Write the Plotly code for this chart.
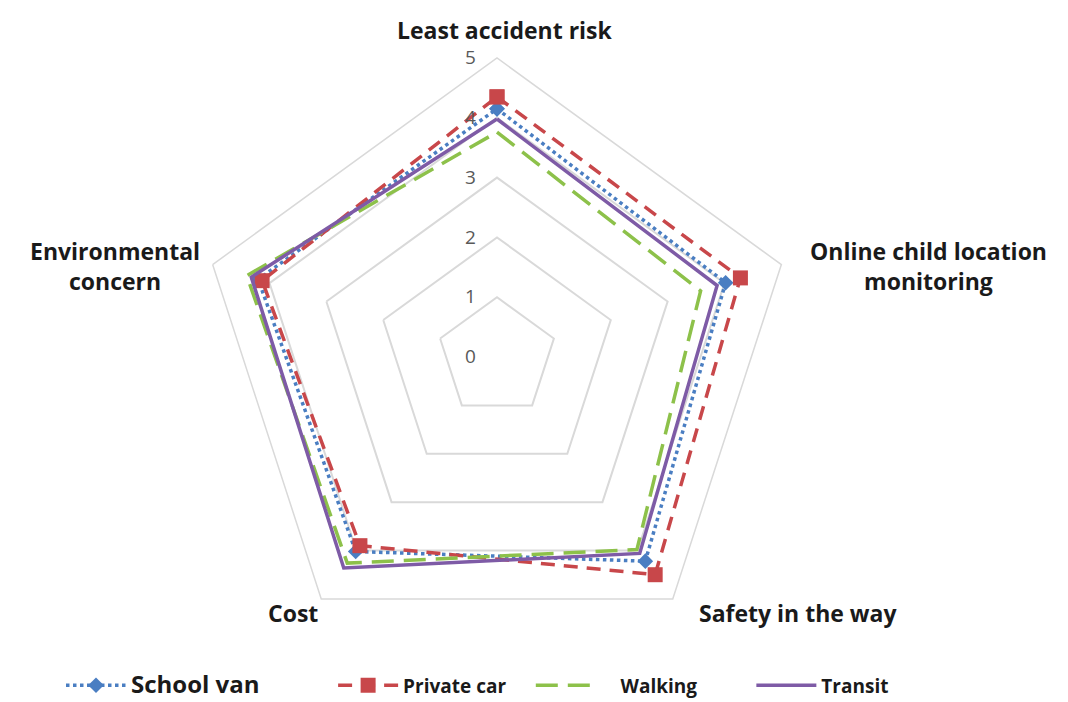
import plotly.graph_objects as go

categories = ["Least accident risk", "Online child location monitoring",
              "Safety in the way", "Cost", "Environmental concern"]
category_labels = ["Least accident risk", "Online child location<br>monitoring",
                   "Safety in the way", "Cost", "Environmental<br>concern"]
school_van = [4.15, 4.02, 4.22, 4.02, 4.2]
private_car = [4.35, 4.28, 4.5, 3.9, 4.13]
walking = [3.76, 3.58, 3.98, 4.26, 4.4]
transit = [3.98, 3.87, 4.06, 4.36, 4.32]
radial_ticks = [0, 1, 2, 3, 4, 5]

def closed(v):
    return list(v) + [v[0]]

theta = closed(categories)
NB = "\u00a0"

fig = go.Figure()
fig.add_trace(go.Scatterpolar(
    r=closed(school_van), theta=theta,
    name="<b><span style='font-size:24px'>School van" + NB * 11 + "</span></b>",
    mode="lines+markers",
    line=dict(color="#4A7EC2", width=3.5, dash="dot"),
    marker=dict(symbol="diamond", size=12, color="#4A7EC2")))
fig.add_trace(go.Scatterpolar(
    r=closed(private_car), theta=theta, name="<b>Private car</b>" + NB * 4,
    mode="lines+markers",
    line=dict(color="#C8474A", width=3.5, dash="14px,9px"),
    marker=dict(symbol="square", size=15, color="#C8474A")))
fig.add_trace(go.Scatterpolar(
    r=closed(walking), theta=theta, name=NB * 4 + "<b>Walking</b>" + NB * 10,
    mode="lines",
    line=dict(color="#8DC14A", width=3.5, dash="22px,10px")))
fig.add_trace(go.Scatterpolar(
    r=closed(transit), theta=theta, name="<b>Transit</b>",
    mode="lines",
    line=dict(color="#7E5BA6", width=3.5)))

dx, dy = -8, -6
fig.update_layout(
    width=1068, height=702,
    margin=dict(l=0, r=0, t=0, b=0),
    paper_bgcolor="white", plot_bgcolor="white",
    font=dict(family="Open Sans", color="#1a1a1a"),
    polar=dict(
        domain=dict(x=[(198+dx)/1068, (796+dx)/1068],
                    y=[1-(654+dy)/702, 1-(56+dy)/702]),
        gridshape="linear",
        bgcolor="white",
        angularaxis=dict(rotation=90, direction="clockwise",
                         showgrid=False, showticklabels=False, ticks="",
                         showline=True, linecolor="#D9D9D9", linewidth=1.5),
        radialaxis=dict(range=[0, 5], tickvals=radial_ticks, angle=90,
                        tickangle=90,
                        showline=False, gridcolor="#D9D9D9", gridwidth=1.5,
                        ticks="outside", ticklen=14, tickcolor="rgba(0,0,0,0)",
                        side="counterclockwise",
                        tickfont=dict(size=19, color="#595959")),
    ),
    showlegend=True,
    legend=dict(orientation="h", x=53/1068, xanchor="left", y=0.008, yanchor="bottom",
                font=dict(size=19, color="#1a1a1a", family="Open Sans"),
                itemwidth=60, traceorder="normal"),
)

pos = [(497, 22), (920, 258), (790, 605), (285, 605), (107, 258)]
for lbl, (px, py) in zip(category_labels, pos):
    fig.add_annotation(x=px/1068, y=1-py/702, xref="paper", yref="paper",
                       text="<b>" + lbl + "</b>", showarrow=False,
                       font=dict(size=23, color="#1a1a1a", family="Open Sans"),
                       xanchor="center", yanchor="middle", align="center")

fig.write_html("out.html")
